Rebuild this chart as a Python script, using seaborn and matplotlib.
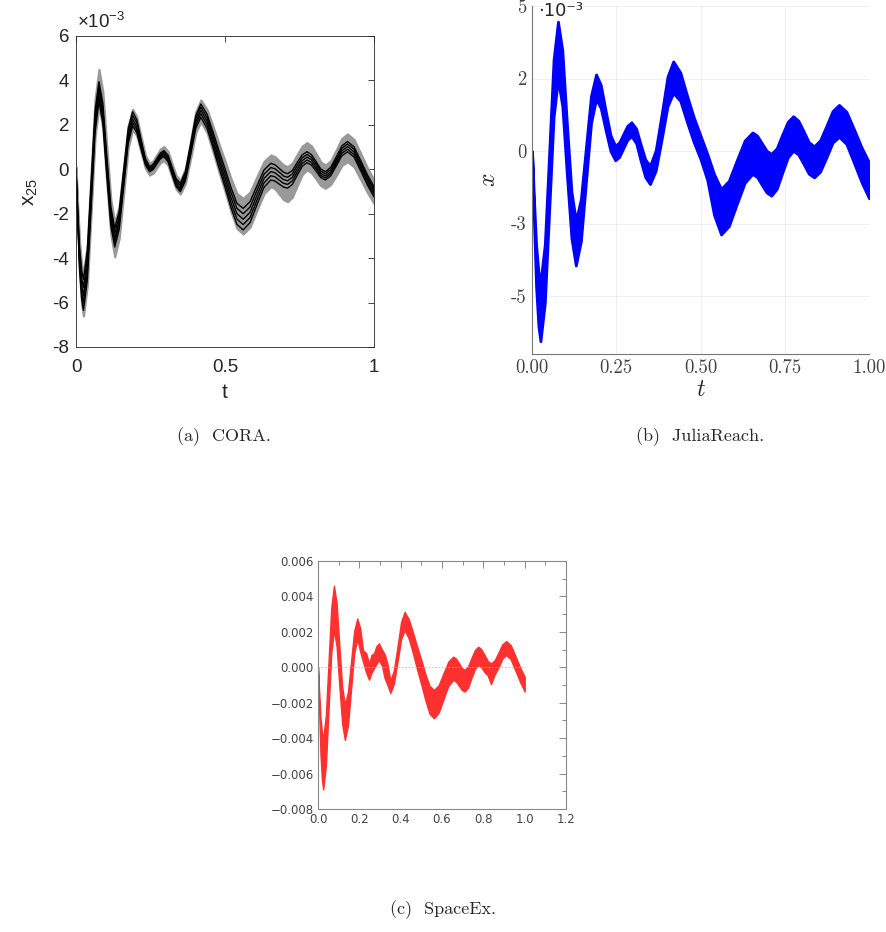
import numpy as np
import pandas as pd
import matplotlib
matplotlib.use("Agg")
import matplotlib.pyplot as plt
from matplotlib.ticker import MultipleLocator
import seaborn as sns

sns.set_style("white")
plt.rcParams['mathtext.fontset'] = 'cm'

# ---------------- data (x values in units of 1e-3) ----------------
t = [0.000, 0.006, 0.012, 0.019,
     0.025, 0.038, 0.051, 0.064,
     0.077, 0.090, 0.103, 0.117,
     0.130, 0.145, 0.160, 0.175,
     0.190, 0.204, 0.218, 0.233,
     0.247, 0.259, 0.271, 0.283,
     0.295, 0.309, 0.322, 0.336,
     0.350, 0.367, 0.385, 0.402,
     0.419, 0.440, 0.460, 0.480, 0.500, 0.520, 0.540,
     0.561, 0.584, 0.607, 0.631,
     0.654, 0.668, 0.682, 0.696,
     0.710, 0.726, 0.742, 0.759,
     0.775, 0.790, 0.806, 0.821,
     0.837, 0.855, 0.874, 0.892,
     0.911, 0.933, 0.955, 0.978,
     1.000]

# (a) CORA: reachable-set band and simulation bundle
cora_hi = [0.10, -1.72, -3.31, -4.32,
           -4.70, -3.36, -0.10, 3.16,
           4.50, 3.49, 1.05, -1.39,
           -2.40, -1.66, 0.15, 1.96,
           2.70, 2.35, 1.49, 0.62,
           0.27, 0.38, 0.65, 0.91,
           1.02, 0.80, 0.26, -0.28,
           -0.50, 0.03, 1.31, 2.59,
           3.12, 2.68, 1.92, 1.13, 0.37, -0.42, -1.09,
           -1.31, -1.03, -0.34, 0.36,
           0.64, 0.56, 0.38, 0.20,
           0.12, 0.28, 0.66, 1.04,
           1.20, 1.05, 0.70, 0.34,
           0.19, 0.39, 0.89, 1.39,
           1.59, 1.34, 0.72, 0.06,
           -0.48]
cora_lo = [-0.10, -2.57, -4.72, -6.08,
           -6.60, -5.22, -1.88, 1.47,
           2.85, 1.86, -0.55, -2.95,
           -3.94, -3.10, -1.07, 0.96,
           1.80, 1.50, 0.77, 0.04,
           -0.26, -0.17, 0.07, 0.30,
           0.39, 0.17, -0.36, -0.89,
           -1.11, -0.64, 0.52, 1.67,
           2.14, 1.64, 0.78, -0.13, -0.99, -1.90, -2.66,
           -2.91, -2.60, -1.85, -1.09,
           -0.78, -0.88, -1.12, -1.36,
           -1.46, -1.25, -0.75, -0.24,
           -0.03, -0.15, -0.44, -0.73,
           -0.85, -0.68, -0.26, 0.17,
           0.34, 0.11, -0.45, -1.05,
           -1.54]
sim_1 = [0.00, -1.88, -3.51, -4.55,
         -4.95, -3.65, -0.51, 2.64,
         3.94, 2.98, 0.65, -1.69,
         -2.65, -1.88, -0.03, 1.82,
         2.59, 2.23, 1.36, 0.48,
         0.12, 0.23, 0.48, 0.73,
         0.84, 0.63, 0.11, -0.42,
         -0.63, -0.11, 1.16, 2.42,
         2.94, 2.47, 1.67, 0.83, 0.03, -0.82, -1.53,
         -1.76, -1.46, -0.75, -0.03,
         0.27, 0.20, 0.04, -0.13,
         -0.20, -0.06, 0.30, 0.65,
         0.79, 0.66, 0.34, 0.02,
         -0.11, 0.09, 0.57, 1.05,
         1.25, 1.01, 0.40, -0.25,
         -0.78]
sim_2 = [0.00, -2.02, -3.78, -4.90,
         -5.32, -4.00, -0.80, 2.40,
         3.72, 2.76, 0.42, -1.92,
         -2.88, -2.10, -0.23, 1.64,
         2.42, 2.08, 1.24, 0.40,
         0.06, 0.16, 0.42, 0.66,
         0.77, 0.56, 0.02, -0.51,
         -0.72, -0.21, 1.04, 2.28,
         2.80, 2.32, 1.50, 0.64, -0.18, -1.04, -1.76,
         -2.00, -1.70, -0.96, -0.22,
         0.08, 0.02, -0.13, -0.30,
         -0.36, -0.21, 0.16, 0.52,
         0.67, 0.54, 0.24, -0.08,
         -0.20, -0.01, 0.46, 0.94,
         1.14, 0.90, 0.28, -0.36,
         -0.89]
sim_3 = [0.00, -2.17, -4.05, -5.24,
         -5.70, -4.36, -1.10, 2.16,
         3.50, 2.54, 0.20, -2.14,
         -3.10, -2.32, -0.43, 1.47,
         2.25, 1.92, 1.13, 0.33,
         0.00, 0.10, 0.35, 0.60,
         0.70, 0.48, -0.06, -0.60,
         -0.82, -0.31, 0.92, 2.14,
         2.65, 2.16, 1.33, 0.45, -0.39, -1.27, -2.00,
         -2.25, -1.94, -1.18, -0.41,
         -0.10, -0.16, -0.31, -0.46,
         -0.52, -0.36, 0.02, 0.39,
         0.55, 0.43, 0.13, -0.18,
         -0.30, -0.11, 0.36, 0.83,
         1.02, 0.78, 0.17, -0.47,
         -1.00]
sim_4 = [0.00, -2.29, -4.28, -5.54,
         -6.02, -4.67, -1.38, 1.92,
         3.27, 2.32, -0.02, -2.34,
         -3.30, -2.51, -0.60, 1.31,
         2.10, 1.78, 1.02, 0.26,
         -0.06, 0.04, 0.29, 0.54,
         0.64, 0.41, -0.14, -0.69,
         -0.92, -0.42, 0.80, 2.00,
         2.50, 2.00, 1.15, 0.26, -0.60, -1.50, -2.24,
         -2.49, -2.17, -1.40, -0.61,
         -0.29, -0.34, -0.49, -0.63,
         -0.68, -0.52, -0.13, 0.26,
         0.42, 0.31, 0.02, -0.28,
         -0.39, -0.20, 0.26, 0.72,
         0.90, 0.66, 0.06, -0.59,
         -1.12]
sim_5 = [0.00, -2.41, -4.51, -5.84,
         -6.35, -4.98, -1.66, 1.67,
         3.04, 2.09, -0.23, -2.55,
         -3.50, -2.70, -0.78, 1.15,
         1.95, 1.65, 0.92, 0.19,
         -0.11, -0.01, 0.23, 0.47,
         0.57, 0.34, -0.22, -0.78,
         -1.01, -0.52, 0.67, 1.85,
         2.34, 1.83, 0.97, 0.06, -0.80, -1.72, -2.48,
         -2.73, -2.40, -1.61, -0.81,
         -0.48, -0.53, -0.67, -0.80,
         -0.85, -0.68, -0.28, 0.13,
         0.30, 0.19, -0.09, -0.37,
         -0.48, -0.29, 0.16, 0.60,
         0.79, 0.55, -0.06, -0.71,
         -1.24]

# (b) JuliaReach flowpipe bounds
jr_hi = [0.00, -1.72, -3.22, -4.17,
         -4.53, -3.22, -0.04, 3.15,
         4.46, 3.46, 1.03, -1.40,
         -2.40, -1.66, 0.12, 1.90,
         2.64, 2.28, 1.41, 0.54,
         0.18, 0.30, 0.59, 0.87,
         0.99, 0.77, 0.24, -0.29,
         -0.51, 0.02, 1.29, 2.56,
         3.09, 2.71, 1.91, 1.16, 0.53, -0.10, -0.79,
         -1.31, -1.03, -0.34, 0.36,
         0.64, 0.53, 0.27, 0.01,
         -0.10, 0.09, 0.55, 1.01,
         1.20, 1.05, 0.68, 0.31,
         0.16, 0.37, 0.88, 1.38,
         1.59, 1.35, 0.76, 0.12,
         -0.39]
jr_lo = [0.00, -2.49, -4.66, -6.04,
         -6.56, -5.24, -2.04, 1.16,
         2.48, 1.54, -0.74, -3.01,
         -3.95, -3.11, -1.08, 0.95,
         1.79, 1.48, 0.74, -0.01,
         -0.32, -0.20, 0.10, 0.39,
         0.51, 0.27, -0.32, -0.90,
         -1.14, -0.68, 0.43, 1.54,
         2.00, 1.73, 0.99, 0.30, -0.28, -1.00, -2.20,
         -2.88, -2.59, -1.85, -1.10,
         -0.79, -0.90, -1.17, -1.43,
         -1.54, -1.31, -0.77, -0.22,
         0.01, -0.12, -0.45, -0.78,
         -0.91, -0.71, -0.21, 0.29,
         0.49, 0.24, -0.40, -1.08,
         -1.63]

# (c) SpaceEx flowpipe bounds
sx_hi = [0.00, -1.52, -2.84, -3.68,
         -4.00, -2.74, 0.30, 3.34,
         4.60, 3.62, 1.25, -1.12,
         -2.10, -1.39, 0.33, 2.04,
         2.75, 2.20, 0.95, 0.80,
         0.20, 0.70, 0.80, 1.20,
         1.35, 1.00, 0.75, 0.20,
         -0.75, -0.18, 1.19, 2.56,
         3.13, 2.69, 1.94, 1.15, 0.40, -0.40, -1.06,
         -1.28, -1.01, -0.34, 0.33,
         0.60, 0.49, 0.23, -0.04,
         -0.15, 0.04, 0.51, 0.97,
         1.16, 1.02, 0.69, 0.36,
         0.22, 0.40, 0.85, 1.30,
         1.48, 1.24, 0.64, -0.01,
         -0.53]
sx_lo = [0.00, -2.62, -4.90, -6.35,
         -6.90, -5.59, -2.40, 0.79,
         2.10, 1.19, -1.00, -3.19,
         -4.10, -3.27, -1.25, 0.77,
         1.60, 0.90, 0.30, -0.30,
         -0.70, -0.30, -0.05, 0.20,
         0.40, 0.10, -0.60, -1.00,
         -1.45, -0.93, 0.33, 1.58,
         2.10, 1.60, 0.76, -0.14, -0.99, -1.88, -2.63,
         -2.88, -2.56, -1.80, -1.04,
         -0.72, -0.81, -1.05, -1.28,
         -1.37, -1.15, -0.62, -0.09,
         0.13, 0.00, -0.28, -0.45,
         -0.95, -0.40, 0.00, 0.50,
         0.69, 0.44, -0.18, -0.83,
         -1.37]

cora_yticks = [-8, -6, -4, -2, 0, 2, 4, 6]
cora_xticks = [0, 0.5, 1]
cora_xticklabels = ["0", "0.5", "1"]
jr_yticks = [-5, -2.5, 0, 2.5, 5]
jr_yticklabels = ["-5", "-3", "0", "2", "5"]
jr_xticks = [0.0, 0.25, 0.5, 0.75, 1.0]
jr_xticklabels = ["0.00", "0.25", "0.50", "0.75", "1.00"]
sx_xticks = [0.0, 0.2, 0.4, 0.6, 0.8, 1.0, 1.2]
sx_yticks = [-0.008, -0.006, -0.004, -0.002, 0.000, 0.002, 0.004, 0.006]
captions = ["(a)  CORA.", "(b)  JuliaReach.", "(c)  SpaceEx."]

ta = np.array(t)
scale = 1e-3

W, H = 886, 932
fig = plt.figure(figsize=(W / 100, H / 100), dpi=100)

def fbox(l, tp, r, b):
    return [l / W, 1 - b / H, (r - l) / W, (b - tp) / H]

# ---------------- (a) CORA ----------------
axa = fig.add_axes(fbox(76, 36, 374, 347))
axa.fill_between(ta, cora_lo, cora_hi, color="#999999", lw=1.6, edgecolor="#999999")
sims = [sim_1, sim_2, sim_3, sim_4, sim_5]
df_sim = pd.DataFrame({"t": np.tile(ta, len(sims)),
                       "x": np.concatenate(sims),
                       "run": np.repeat(np.arange(len(sims)), len(ta))})
sns.lineplot(data=df_sim, x="t", y="x", units="run", estimator=None, sort=False,
             color="black", lw=1.0, ax=axa, legend=False)
axa.set_xlim(0, 1)
axa.set_ylim(-8, 6)
axa.set_xticks(cora_xticks, cora_xticklabels)
axa.set_yticks(cora_yticks, [str(v) for v in cora_yticks])
axa.tick_params(direction="in", top=True, right=True, length=4.5, width=0.6,
                labelsize=13.5, colors="#262626")
axa.tick_params(axis="x", pad=9)
axa.tick_params(axis="y", pad=5)
for lab in axa.get_xticklabels() + axa.get_yticklabels():
    lab.set_fontfamily("Liberation Sans")
for s in axa.spines.values():
    s.set_color("#262626"); s.set_linewidth(0.6)
axa.set_xlabel("t", fontsize=15, fontfamily="Liberation Sans", color="#262626", labelpad=5)
axa.set_ylabel(r"$\mathregular{x_{25}}$", fontsize=15, fontfamily="Liberation Sans",
               color="#262626", labelpad=9)
axa.text(0.005, 1.012, r"$\mathregular{\times10^{-3}}$", transform=axa.transAxes,
         fontsize=13.5, fontfamily="Liberation Sans", color="#262626", va="bottom")

# ---------------- (b) JuliaReach ----------------
axb = fig.add_axes(fbox(532, 6, 869, 354))
axb.fill_between(ta, jr_lo, jr_hi, color="#0000ff", edgecolor="#0000ff", lw=2.0)
axb.set_xlim(0, 1)
axb.set_ylim(-7, 5)
axb.set_xticks(jr_xticks, jr_xticklabels)
axb.set_yticks(jr_yticks, jr_yticklabels)
axb.grid(True, color="#000000", alpha=0.07, lw=0.6)
axb.tick_params(direction="in", length=3, width=0.6, labelsize=13.5, colors="#444444", pad=4)
for lab in axb.get_xticklabels() + axb.get_yticklabels():
    lab.set_fontfamily("cmr10")
for k in ["top", "right"]:
    axb.spines[k].set_visible(False)
for k in ["left", "bottom"]:
    axb.spines[k].set_color("#777777"); axb.spines[k].set_linewidth(0.8)
axb.set_xlabel(r"$t$", fontsize=17, labelpad=0)
axb.set_ylabel(r"$x$", fontsize=17, labelpad=8)
fig.text(538 / W, 1 - 2 / H, "·10⁻³", fontsize=13, fontfamily="DejaVu Sans",
         va="top", ha="left")

# ---------------- (c) SpaceEx ----------------
axc = fig.add_axes(fbox(318, 561, 566, 809))
axc.plot([t[0], t[-1]], [0, 0], color="#bbbbbb", lw=0.6, ls=(0, (2, 2)))
axc.fill_between(ta, np.array(sx_lo) * scale, np.array(sx_hi) * scale,
                 color="#ff3030", edgecolor="#ff3030", lw=1.0)
axc.set_xlim(0, 1.2)
axc.set_ylim(-0.008, 0.006)
axc.set_xticks(sx_xticks, [f"{v:.1f}" for v in sx_xticks])
axc.set_yticks(sx_yticks, [f"{v:.3f}".replace("-", "\u2212") for v in sx_yticks])
axc.xaxis.set_minor_locator(MultipleLocator(0.1))
axc.yaxis.set_minor_locator(MultipleLocator(0.001))
axc.tick_params(which="both", direction="in", top=True, right=True, colors="#888888",
                width=0.7, labelcolor="#444444", labelsize=8.5)
axc.tick_params(which="major", length=5, pad=3)
axc.tick_params(which="minor", length=3)
for lab in axc.get_xticklabels() + axc.get_yticklabels():
    lab.set_fontfamily("DejaVu Sans")
for s in axc.spines.values():
    s.set_color("#888888"); s.set_linewidth(0.8)

# ---------------- captions ----------------
fig.text(224 / W, 1 - 437 / H, captions[0], fontsize=13, fontfamily="cmr10", ha="center", va="center")
fig.text(700 / W, 1 - 437 / H, captions[1], fontsize=13, fontfamily="cmr10", ha="center", va="center")
fig.text(443 / W, 1 - 910 / H, captions[2], fontsize=13, fontfamily="cmr10", ha="center", va="center")

fig.savefig("out.png", dpi=100)
